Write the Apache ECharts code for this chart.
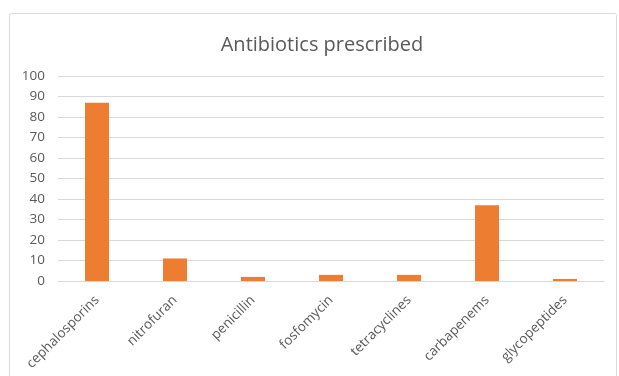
<!DOCTYPE html>
<html>
<head>
<meta charset="utf-8">
<script src="https://cdn.jsdelivr.net/npm/echarts@6/dist/echarts.min.js"></script>
<style>
  html, body { margin: 0; padding: 0; background: #ffffff; }
  #chart { width: 619px; height: 376px; }
</style>
</head>
<body>
<div id="chart"></div>
<script>
// Antibiotic classes and number of prescriptions
const categories = ['cephalosporins', 'nitrofuran', 'penicillin', 'fosfomycin', 'tetracyclines', 'carbapenems', 'glycopeptides'];
const prescribed = [87, 11, 2, 3, 3, 37, 1];
const yTicks = { min: 0, max: 100, interval: 10 };

const textColor = '#595959';
const gridColor = '#d9d9d9';
const font = '"Open Sans", "DejaVu Sans", sans-serif';

const chart = echarts.init(document.getElementById('chart'), null, { renderer: 'canvas' });
chart.setOption({
  backgroundColor: '#ffffff',
  animation: false,
  graphic: [{
    type: 'rect',
    shape: { x: 9.5, y: 13.5, width: 607, height: 400, r: 2 },
    style: { fill: 'none', stroke: '#d9d9d9', lineWidth: 1 },
    silent: true,
    z: -1
  }],
  title: {
    text: 'Antibiotics prescribed',
    left: 317,
    textAlign: 'center',
    top: 30,
    textStyle: { fontFamily: font, fontSize: 20, fontWeight: 'normal', color: textColor }
  },
  grid: { left: 58, right: 15, top: 76, bottom: 95, containLabel: false },
  xAxis: {
    type: 'category',
    data: categories,
    axisLine: { show: true, lineStyle: { color: gridColor, width: 1 } },
    axisTick: { show: false },
    axisLabel: {
      interval: 0,
      rotate: 45,
      margin: 17,
      fontFamily: font,
      fontSize: 13.5,
      color: textColor
    }
  },
  yAxis: {
    type: 'value',
    min: yTicks.min,
    max: yTicks.max,
    interval: yTicks.interval,
    axisLine: { show: false },
    axisTick: { show: false },
    splitLine: { lineStyle: { color: gridColor, width: 1 } },
    axisLabel: {
      margin: 13,
      fontFamily: font,
      fontSize: 13.5,
      color: textColor
    }
  },
  series: [{
    type: 'bar',
    data: prescribed,
    barWidth: 24,
    itemStyle: { color: '#ed7d31' }
  }]
});
</script>
</body>
</html>
